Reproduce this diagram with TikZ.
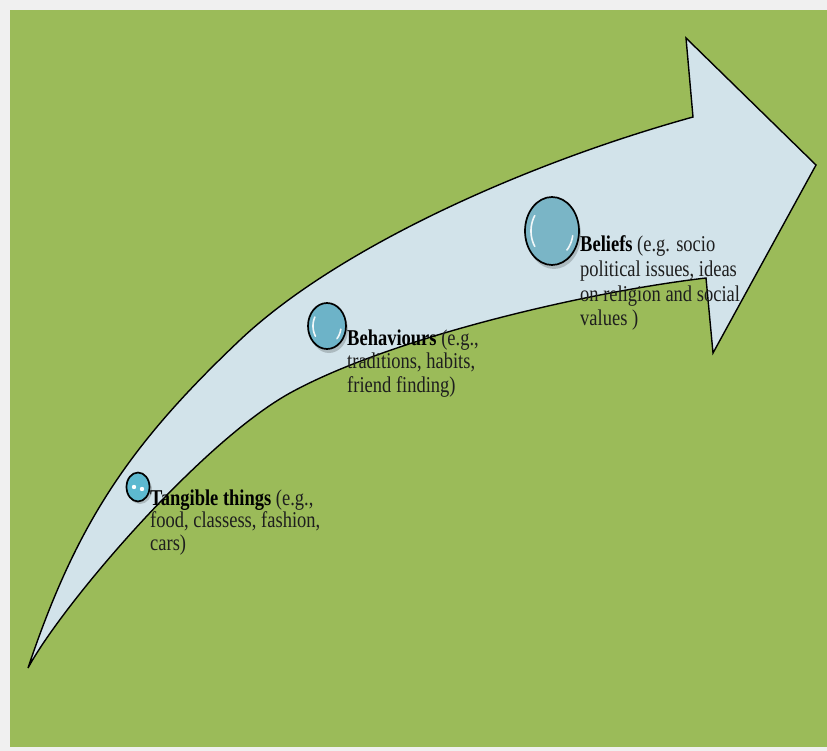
\documentclass[tikz,border=0pt]{standalone}
\usepackage{fontspec}
\setmainfont{Liberation Serif}
\usepackage{graphicx}
\usetikzlibrary{shapes.geometric}
\definecolor{bggray}{HTML}{F0F0F0}
\definecolor{leaf}{HTML}{9BBB59}
\definecolor{arrowfill}{HTML}{D2E3EA}
\definecolor{bubA}{HTML}{5DB9D0}
\definecolor{bubB}{HTML}{6DB3C8}
\definecolor{bubC}{HTML}{7AB5C6}
\definecolor{txt}{HTML}{1E1E1E}
\tikzset{
  bigarrow/.style={fill=arrowfill, draw=black, line width=1.4pt, line join=miter},
  bubble/.style={ellipse, draw=black, line width=1.7pt, inner sep=0pt},
  shadowb/.style={ellipse, fill=black, opacity=0.18, inner sep=0pt, draw=none},
  hl/.style={draw=white, line width=1.6pt, line cap=round, opacity=0.9},
  lbl/.style={anchor=base west, inner sep=0pt, text=txt}
}
\begin{document}
\begin{tikzpicture}[x=1pt,y=-1pt]
\useasboundingbox (0,0) rectangle (827,751);
\fill[bggray] (0,0) rectangle (827,751);
\fill[leaf] (10,10) rectangle (827,747);
% the curved arrow
\filldraw[bigarrow] (28,668) .. controls (76,525) and (128,446) .. (240,340)
  .. controls (335,250) and (520,165) .. (693,117)
  -- (686,38) -- (816,165) -- (713,353) -- (706,278)
  .. controls (586,292) and (390,338) .. (290,393)
  .. controls (200,443) and (62,605) .. (28,668) -- cycle;
% shadows
\node[shadowb, minimum width=24, minimum height=28] (s1) at (140,490) {};
\node[shadowb, minimum width=38, minimum height=46] (s2) at (329,330) {};
\node[shadowb, minimum width=54, minimum height=68] (s3) at (554,235) {};
% bubbles
\node[bubble, fill=bubA, minimum width=23, minimum height=29] (c1) at (138,487) {};
\node[bubble, fill=bubB, minimum width=38, minimum height=46] (c2) at (327,326) {};
\node[bubble, fill=bubC, minimum width=54, minimum height=68] (c3) at (552,231) {};
% highlights
\fill[white] ([shift={(-4,0)}]c1.center) circle (2.2);
\fill[white] ([shift={(4,2)}]c1.center) circle (2.2);
\begin{scope}[shift={(c2.center)}]
  \draw[hl] plot[domain=150:215, samples=20] ({14*cos(\x)},{-18*sin(\x)});
  \draw[hl] plot[domain=-45:-10, samples=15] ({14*cos(\x)},{-18*sin(\x)});
\end{scope}
\begin{scope}[shift={(c3.center)}]
  \draw[hl] plot[domain=145:215, samples=20] ({21*cos(\x)},{-27*sin(\x)});
  \draw[hl] plot[domain=-45:-10, samples=15] ({21*cos(\x)},{-27*sin(\x)});
\end{scope}
% labels
\node[lbl] (t1) at (150,505) {\scalebox{1}[1.22]{\fontsize{18.5}{18.4}\selectfont\begin{tabular}[t]{@{}l@{}}\textbf{\color{black}Tangible things} (e.g.,\\ food, classess, fashion,\\ cars)\end{tabular}}};
\node[lbl] (t2) at (347,345) {\scalebox{1}[1.22]{\fontsize{18.5}{19.3}\selectfont\begin{tabular}[t]{@{}l@{}}\textbf{\color{black}Behaviours} (e.g.,\\ traditions, habits,\\ friend finding)\end{tabular}}};
\node[lbl] (t3) at (580,252) {\scalebox{1}[1.22]{\fontsize{18.5}{20.1}\selectfont\begin{tabular}[t]{@{}l@{}}\textbf{\color{black}Beliefs} (e.g. socio\\ political issues, ideas\\ on religion and social\\ values )\end{tabular}}};
\end{tikzpicture}
\end{document}
